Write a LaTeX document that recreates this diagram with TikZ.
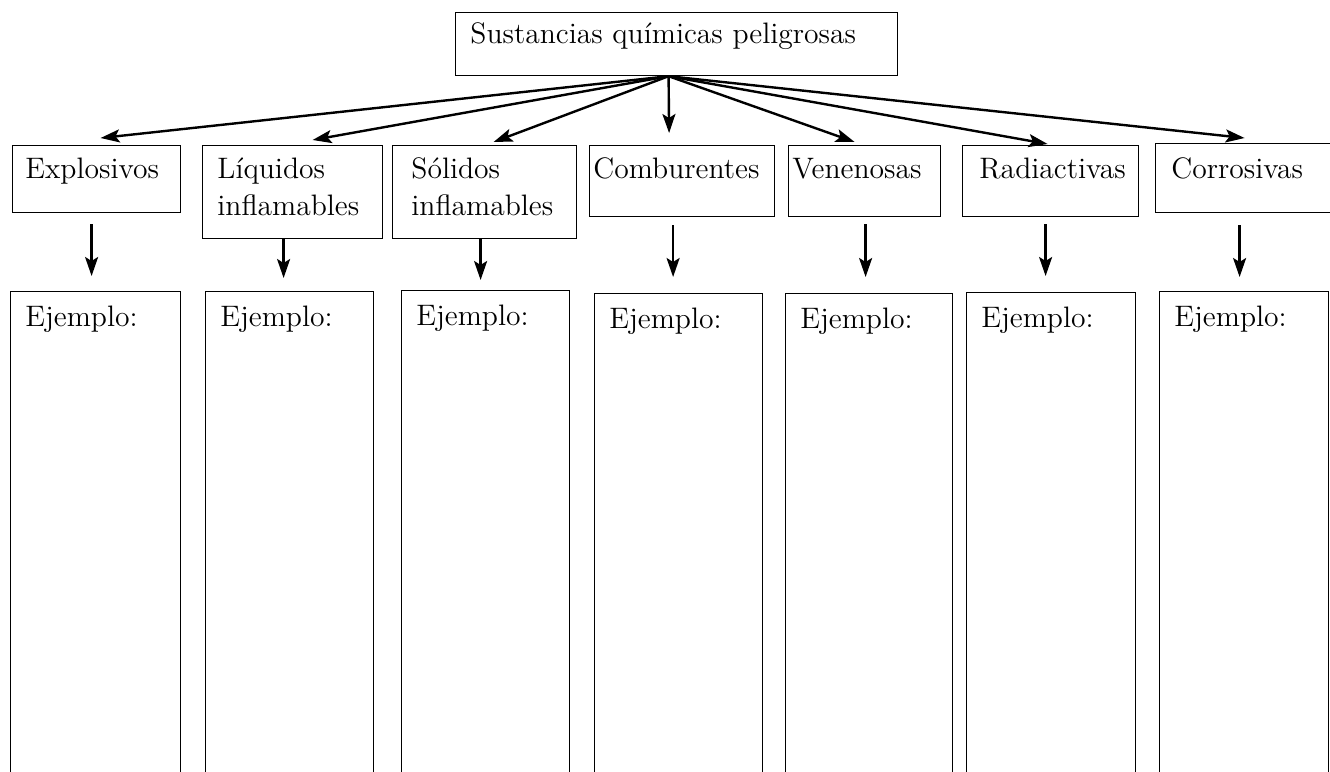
\documentclass[tikz,border=0pt]{standalone}
\usetikzlibrary{arrows.meta,calc}
\begin{document}
\begin{tikzpicture}[x=0.5pt,y=-0.5pt,
    box/.style={draw, line width=0.6pt, anchor=north west, inner sep=0pt},
    txt/.style={anchor=base west, inner sep=0pt, align=left, font=\fontsize{14.8}{18.5}\selectfont},
    flecha/.style={-{Stealth[length=9.5pt,width=6.5pt,inset=2pt]}, line width=1.2pt}]
    \useasboundingbox (0,0) rectangle (1330,772);

    % caja principal
    \node[box, minimum width=442*0.5pt, minimum height=63*0.5pt] (raiz) at (455,12) {};
    \node[txt] (raiz-t) at ([shift={(15,31)}]raiz.north west) {Sustancias químicas peligrosas};
    \coordinate (origen) at ([shift={(-8,0)}]raiz.south);

    % categorias
    \node[box, minimum width=168*0.5pt, minimum height=67*0.5pt] (expl) at (12,145) {};
    \node[box, minimum width=180*0.5pt, minimum height=93*0.5pt] (liq) at (202,145) {};
    \node[box, minimum width=184*0.5pt, minimum height=93*0.5pt] (sol) at (392,145) {};
    \node[box, minimum width=185*0.5pt, minimum height=71*0.5pt] (comb) at (589,145) {};
    \node[box, minimum width=152*0.5pt, minimum height=71*0.5pt] (ven) at (788,145) {};
    \node[box, minimum width=176*0.5pt, minimum height=71*0.5pt] (rad) at (962,145) {};
    \node[box, minimum width=180*0.5pt, minimum height=69*0.5pt] (corr) at (1155,143) {};

    % base = ultima linea
    \foreach \n/\p/\b/\t in {expl/13/33/Explosivos, liq/15/70/{Líquidos\\inflamables},
        sol/19/70/{Sólidos\\inflamables}, comb/4/33/Comburentes, ven/4/33/Venenosas,
        rad/17/33/Radiactivas, corr/16/35/Corrosivas}
        \node[txt] (\n-t) at ([shift={(\p,\b)}]\n.north west) {\t};

    % ejemplos
    \foreach \n/\x/\y/\w in {expl/10/291/170, liq/205/291/168, sol/401/290/168, comb/594/293/168,
        ven/785/293/167, rad/966/292/169, corr/1159/291/169}
    {
        \node[box, minimum width=\w*0.5pt, minimum height=520*0.5pt] (ej-\n) at (\x,\y) {};
        \node[txt] (ej-\n-t) at ([shift={(15,35)}]ej-\n.north west) {Ejemplo:};
    }

    % flechas
    \foreach \n/\dx/\dy in {expl/4/-7, liq/20/-5, sol/9/-3, comb/-13/-12, ven/-10/-3, rad/-3/-1, corr/-1/-5}
        \draw[flecha] (origen) -- ([shift={(\dx,\dy)}]\n.north);
    \foreach \n/\dx/\s/\e in {expl/-5/11/15, liq/-9/0/13, sol/-4/0/10, comb/-9/8/16,
        ven/1/7/16, rad/-5/7/16, corr/-6/12/14}
        \draw[flecha] ([shift={(\dx,\s)}]\n.south) -- ($(\n.south |- ej-\n.north)+(\dx,-\e)$);

\end{tikzpicture}
\end{document}
